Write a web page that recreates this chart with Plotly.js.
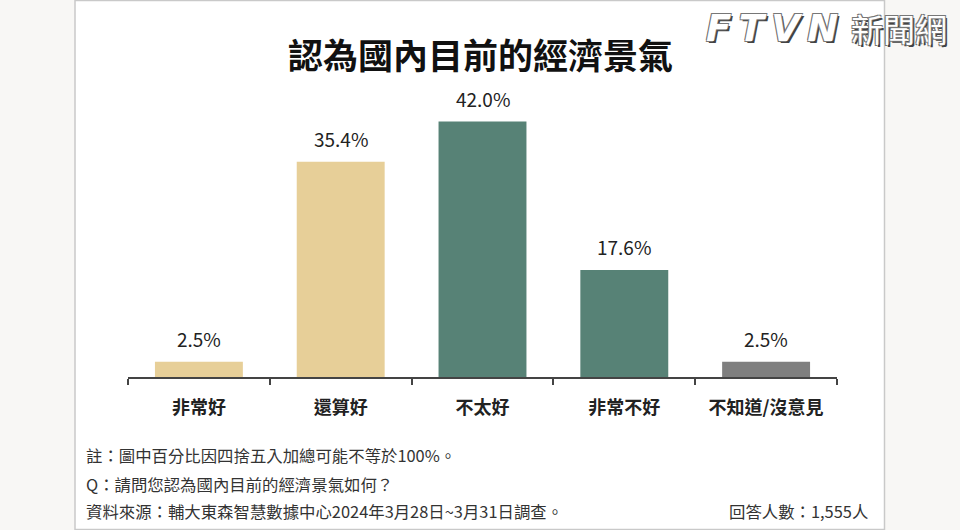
<!DOCTYPE html>
<html>
<head>
<meta charset="utf-8">
<script src="https://cdn.plot.ly/plotly-3.0.1.min.js"></script>
<style>
html,body{margin:0;padding:0;background:#f8f7f5;}
#chart{width:960px;height:530px;}
</style>
</head>
<body>
<div id="chart"></div>
<script>
const categories = ["非常好", "還算好", "不太好", "非常不好", "不知道/沒意見"];
const values = [2.5, 35.4, 42.0, 17.6, 2.5];
const valueLabels = ["2.5%", "35.4%", "42.0%", "17.6%", "2.5%"];
const barColors = ["#e7cf98", "#e7cf98", "#578276", "#578276", "#7f7f7f"];

const titleText = "認為國內目前的經濟景氣";
const noteLines = [
  "註：圖中百分比因四捨五入加總可能不等於100%。",
  "Q：請問您認為國內目前的經濟景氣如何？",
  "資料來源：輔大東森智慧數據中心2024年3月28日~3月31日調查。"
];
const sampleText = "回答人數：1,555人";

const W = 960, H = 530;
const M = {l: 128, r: 123, t: 90, b: 153};
const PW = W - M.l - M.r, PH = H - M.t - M.b;
const px = x => (x - M.l) / PW;
const py = y => (H - M.b - y) / PH;

const font = '"Noto Sans CJK TC", "Noto Sans CJK SC", sans-serif';

const annotations = [];
// value labels
categories.forEach((c, i) => {
  annotations.push({
    x: c, y: values[i], xref: 'x', yref: 'y',
    text: valueLabels[i], showarrow: false,
    yanchor: 'bottom', xanchor: 'center', yshift: 8,
    font: {family: font, size: 19, color: '#222'}
  });
});
// title
annotations.push({
  x: px(480), y: py(54), xref: 'paper', yref: 'paper',
  text: titleText, showarrow: false, xanchor: 'center', yanchor: 'middle',
  font: {family: font, size: 35, color: '#111', weight: 700}
});
// notes
const noteY = [455, 484, 511];
noteLines.forEach((t, i) => {
  annotations.push({
    x: px(84), y: py(noteY[i]), xref: 'paper', yref: 'paper',
    text: t, showarrow: false, xanchor: 'left', yanchor: 'middle',
    font: {family: font, size: 16.4, color: '#333'}
  });
});
annotations.push({
  x: px(870), y: py(511), xref: 'paper', yref: 'paper',
  text: sampleText, showarrow: false, xanchor: 'right', yanchor: 'middle',
  font: {family: font, size: 16.4, color: '#333'}
});
// logo
const logoShadow = '-1px -1px 0 #777, 1px -1px 0 #777, -1px 1px 0 #777, 2px 2px 0 #444';
annotations.push({
  x: px(704), y: py(28), xref: 'paper', yref: 'paper',
  text: "F\u2009T\u2009V\u2009N", showarrow: false, xanchor: 'left', yanchor: 'middle',
  font: {family: '"DejaVu Sans", sans-serif', size: 37, color: '#ffffff', style: 'italic', weight: 700,
         shadow: logoShadow}
});
annotations.push({
  x: px(949), y: py(28), xref: 'paper', yref: 'paper',
  text: "新聞網", showarrow: false, xanchor: 'right', yanchor: 'middle',
  font: {family: font, size: 32, color: '#ffffff', shadow: logoShadow}
});

const data = [{
  type: 'bar',
  x: categories,
  y: values,
  marker: {color: barColors},
  hoverinfo: 'skip'
}];

const layout = {
  width: W, height: H,
  margin: M,
  paper_bgcolor: '#f8f7f5',
  plot_bgcolor: 'rgba(0,0,0,0)',
  showlegend: false,
  bargap: 0.38,
  xaxis: {
    type: 'category',
    showline: true, linecolor: '#444', linewidth: 2,
    ticks: 'outside', tickson: 'boundaries', ticklen: 6, tickwidth: 2, tickcolor: '#444',
    ticklabelstandoff: 13,
    tickfont: {family: font, size: 18, color: '#222', weight: 700},
    showgrid: false, zeroline: false, fixedrange: true
  },
  yaxis: {
    range: [0, 47.2], visible: false, showgrid: false, zeroline: false, fixedrange: true
  },
  shapes: [{
    type: 'rect', xref: 'paper', yref: 'paper', layer: 'below',
    x0: px(75), x1: px(884.5), y0: py(529.5), y1: py(0.5),
    fillcolor: '#ffffff', line: {color: '#c9c9c9', width: 1.5}
  }],
  annotations: annotations
};

Plotly.newPlot('chart', data, layout, {displayModeBar: false, staticPlot: true});
</script>
</body>
</html>
